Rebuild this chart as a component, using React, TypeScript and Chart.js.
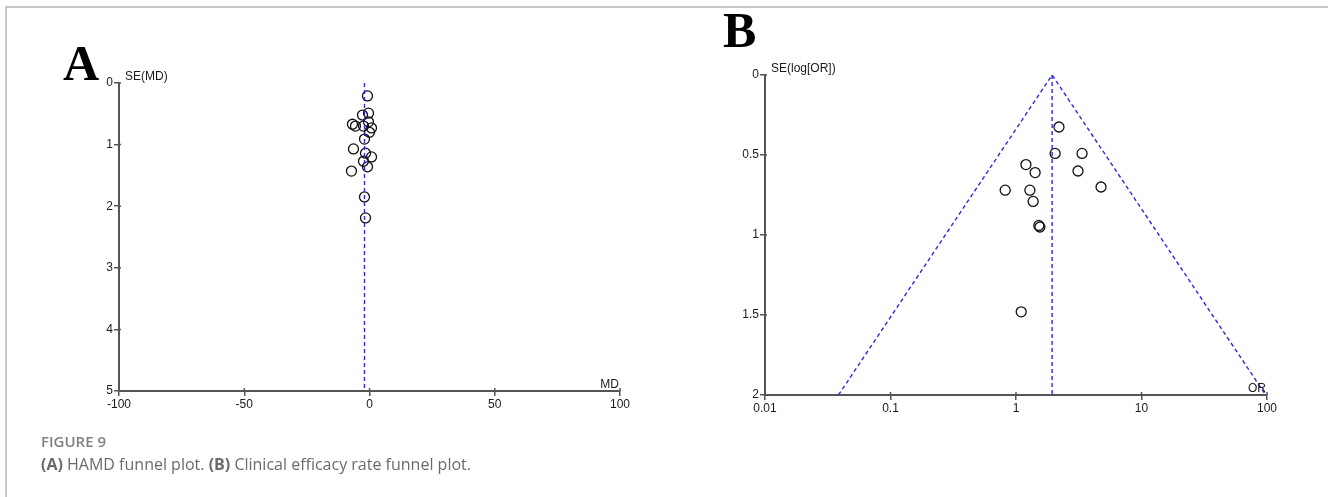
import React, { useEffect, useRef } from "react";
import { Chart, registerables } from "chart.js";
Chart.register(...registerables);

// Panel A: HAMD funnel plot (MD vs SE(MD))
const mdA = [-0.8, -2.8, -0.4, -0.4, -6.8, -5.6, -2.4, 0.8, 0, -2.0, -6.4, -1.6, 0.8, -2.4, -0.8, -7.2, -2.0, -1.6];
const seA = [0.21, 0.52, 0.49, 0.63, 0.67, 0.7, 0.7, 0.73, 0.8, 0.91, 1.07, 1.14, 1.2, 1.27, 1.36, 1.43, 1.85, 2.19];
const pooledMdA = -2.0;
const xTicksA = [-100, -50, 0, 50, 100];
const yTicksA = [0, 1, 2, 3, 4, 5];

// Panel B: clinical efficacy rate funnel plot (OR vs SE(log[OR]))
const orB = [2.2, 2.05, 3.36, 1.2, 1.42, 3.12, 0.82, 1.29, 4.76, 1.37, 1.52, 1.55, 1.1];
const seB = [0.325, 0.49, 0.49, 0.56, 0.61, 0.6, 0.72, 0.72, 0.7, 0.79, 0.94, 0.95, 1.48];
const pooledOrB = 1.94;
const funnelLowerOrB = 0.0385; // at SE = 2
const funnelUpperOrB = 97.7; // at SE = 2
const xTicksB = [0.01, 0.1, 1, 10, 100];
const yTicksB = [0, 0.5, 1, 1.5, 2];

const AXIS = "#555";
const TXT = "#1a1a1a";
const DASH = "#2b2bd6";
const tickFont = { family: '"Liberation Sans", Arial, sans-serif', size: 12 };

const axisTitles = (yTitle: string, xTitle: string) => ({
  id: "axisTitles",
  afterDraw(chart: any) {
    const { ctx, chartArea } = chart;
    ctx.save();
    // small inward tick marks so ticks cross the axis lines
    ctx.strokeStyle = AXIS;
    ctx.lineWidth = 1.5;
    const xs = chart.scales.x;
    const ys = chart.scales.y;
    ctx.beginPath();
    xs.ticks.forEach((t: any) => {
      const px = xs.getPixelForValue(t.value);
      ctx.moveTo(px, chartArea.bottom);
      ctx.lineTo(px, chartArea.bottom - 3);
    });
    ys.ticks.forEach((t: any) => {
      const py = ys.getPixelForValue(t.value);
      ctx.moveTo(chartArea.left, py);
      ctx.lineTo(chartArea.left + 2, py);
    });
    ctx.stroke();

    ctx.font = '12px "Liberation Sans", Arial, sans-serif';
    ctx.fillStyle = TXT;
    ctx.textBaseline = "alphabetic";
    ctx.textAlign = "left";
    ctx.fillText(yTitle, chartArea.left + 6, chartArea.top - 3);
    ctx.textAlign = "right";
    ctx.fillText(xTitle, chartArea.right - 1, chartArea.bottom - 3);
    ctx.restore();
  },
});

function axisBase(ticks: number[], isX: boolean) {
  return {
    afterBuildTicks: (axis: any) => {
      axis.ticks = ticks.map((v) => ({ value: v }));
    },
    afterFit: (s: any) => {
      if (isX) s.height = 20;
      else s.width = 40;
    },
    grid: { display: true, drawOnChartArea: false, drawTicks: true, tickLength: 5, color: AXIS, lineWidth: 1.5 },
    border: { display: true, color: AXIS, width: 2 },
    ticks: {
      font: tickFont,
      color: TXT,
      padding: 1,
      maxRotation: 0,
      autoSkip: false,
      callback: (v: any) => String(v),
    },
  };
}

function pointsDataset(xs: number[], ys: number[]) {
  return {
    type: "scatter" as const,
    data: xs.map((x, i) => ({ x, y: ys[i] })),
    pointStyle: "circle",
    pointRadius: 5,
    pointBorderWidth: 1.3,
    pointBackgroundColor: "rgba(0,0,0,0)",
    pointBorderColor: "#111",
    showLine: false,
  };
}

function lineDataset(pts: { x: number; y: number }[]) {
  return {
    type: "line" as const,
    data: pts,
    borderColor: DASH,
    borderWidth: 1.4,
    borderDash: [4, 3],
    pointRadius: 0,
    fill: false,
    tension: 0,
  };
}

function useChart(ref: React.RefObject<HTMLCanvasElement>, build: () => any) {
  useEffect(() => {
    if (!ref.current) return;
    const chart = new Chart(ref.current, build());
    return () => chart.destroy();
  }, []);
}

export default function App() {
  const refA = useRef<HTMLCanvasElement>(null);
  const refB = useRef<HTMLCanvasElement>(null);

  useChart(refA, () => ({
    type: "scatter",
    data: {
      datasets: [
        lineDataset([
          { x: pooledMdA, y: yTicksA[0] },
          { x: pooledMdA, y: yTicksA[yTicksA.length - 1] },
        ]),
        pointsDataset(mdA, seA),
      ],
    },
    options: {
      responsive: false,
      maintainAspectRatio: false,
      animation: false,
      layout: { padding: { left: 79, top: 83, right: 60, bottom: 29 } },
      plugins: { legend: { display: false }, tooltip: { enabled: false } },
      scales: {
        x: { type: "linear", min: -100, max: 100, ...axisBase(xTicksA, true) },
        y: { type: "linear", reverse: true, min: 0, max: 5, ...axisBase(yTicksA, false) },
      },
    },
    plugins: [axisTitles("SE(MD)", "MD")],
  }));

  useChart(refB, () => ({
    type: "scatter",
    data: {
      datasets: [
        lineDataset([
          { x: funnelLowerOrB, y: 2 },
          { x: pooledOrB, y: 0 },
          { x: funnelUpperOrB, y: 2 },
        ]),
        lineDataset([
          { x: pooledOrB, y: 0 },
          { x: pooledOrB, y: 2 },
        ]),
        pointsDataset(orB, seB),
      ],
    },
    options: {
      responsive: false,
      maintainAspectRatio: false,
      animation: false,
      layout: { padding: { left: 45, top: 75, right: 61, bottom: 25 } },
      plugins: { legend: { display: false }, tooltip: { enabled: false } },
      scales: {
        x: { type: "logarithmic", min: 0.01, max: 100, ...axisBase(xTicksB, true) },
        y: { type: "linear", reverse: true, min: 0, max: 2, ...axisBase(yTicksB, false) },
      },
    },
    plugins: [axisTitles("SE(log[OR])", "OR")],
  }));

  const letter: React.CSSProperties = {
    position: "absolute",
    fontFamily: '"Liberation Serif", "Times New Roman", serif',
    fontWeight: 700,
    fontSize: 50,
    lineHeight: "50px",
    color: "#000",
  };

  return (
    <div
      style={{
        position: "absolute",
        left: 0,
        top: 0,
        width: 1328,
        height: 497,
        overflow: "hidden",
        background: "#fff",
      }}
    >
      <div
        style={{
          position: "absolute",
          left: 5,
          top: 6,
          width: 1340,
          height: 520,
          borderTop: "2px solid #c6c6c6",
          borderLeft: "2px solid #c6c6c6",
        }}
      />
      <canvas ref={refA} width={680} height={440} style={{ position: "absolute", left: 0, top: 0 }} />
      <canvas ref={refB} width={648} height={440} style={{ position: "absolute", left: 680, top: 0 }} />
      <div style={{ ...letter, left: 63, top: 38 }}>A</div>
      <div style={{ ...letter, left: 723, top: 5 }}>B</div>
      <div
        style={{
          position: "absolute",
          left: 41,
          top: 432,
          fontFamily: '"Open Sans", "Noto Sans", sans-serif',
          fontWeight: 600,
          fontSize: 15,
          lineHeight: "18px",
          color: "#808080",
        }}
      >
        FIGURE 9
      </div>
      <div
        style={{
          position: "absolute",
          left: 41,
          top: 454,
          fontFamily: '"Open Sans", "Noto Sans", sans-serif',
          fontSize: 16,
          lineHeight: "20px",
          color: "#6a6a6a",
          whiteSpace: "nowrap",
        }}
      >
        <b style={{ fontWeight: 700 }}>(A)</b> HAMD funnel plot. <b style={{ fontWeight: 700 }}>(B)</b> Clinical
        efficacy rate funnel plot.
      </div>
    </div>
  );
}
